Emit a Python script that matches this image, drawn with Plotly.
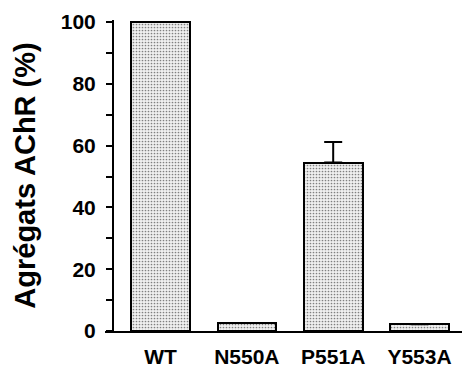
import plotly.graph_objects as go

categories = ["WT", "N550A", "P551A", "Y553A"]
values = [100, 2.6, 54.5, 2.2]
errors_plus = [None, None, 6.7, None]
y_tick_values = [0, 20, 40, 60, 80, 100]
y_tick_labels = ["0", "20", "40", "60", "80", "100"]
y_title = "Agrégats AChR (%)"

FONT = "Liberation Sans, Arial, Helvetica, sans-serif"

fig = go.Figure()
fig.add_trace(go.Bar(
    x=list(range(len(categories))),
    y=values,
    width=0.68,
    marker=dict(
        color="white",
        line=dict(color="black", width=2),
        pattern=dict(shape=".", size=3, solidity=0.25, fgcolor="#808080", bgcolor="#f0f0f0", fillmode="replace"),
    ),
    error_y=dict(type="data", symmetric=False, array=errors_plus,
                 arrayminus=[0, 0, 0, 0], color="black", thickness=2, width=9),
    showlegend=False,
))

fig.update_layout(
    width=462, height=370,
    margin=dict(l=105, r=0, t=20, b=39, autoexpand=False),
    paper_bgcolor="white", plot_bgcolor="white",
    font=dict(family=FONT, color="black", weight="bold"),
    bargap=0,
    xaxis=dict(
        range=[-0.643, 3.492],
        tickvals=list(range(len(categories))),
        ticktext=categories,
        tickfont=dict(size=21, family=FONT, weight="bold"),
        showline=True, linecolor="black", linewidth=2,
        showgrid=False, zeroline=False, ticks="",
        ticklabelstandoff=6, automargin=False,
    ),
    yaxis=dict(
        range=[0, 100.65],
        anchor="free", position=8/357,
        tickvals=y_tick_values, ticktext=y_tick_labels,
        tickfont=dict(size=21, family=FONT, weight="bold"),
        showline=True, linecolor="black", linewidth=2,
        ticks="outside", ticklen=6, tickwidth=2, tickcolor="black",
        minor=dict(dtick=10, ticks="outside", ticklen=6, tickwidth=2, tickcolor="black", showgrid=False),
        showgrid=False, zeroline=False,
        ticklabelstandoff=6, automargin=False,
        title=dict(text=y_title, font=dict(size=29, family=FONT, weight="bold"), standoff=16),
    ),
)

fig.write_html("out.html",
               config={"displayModeBar": False},
               post_script="document.body.style.margin='0';document.body.style.overflow='hidden';")
